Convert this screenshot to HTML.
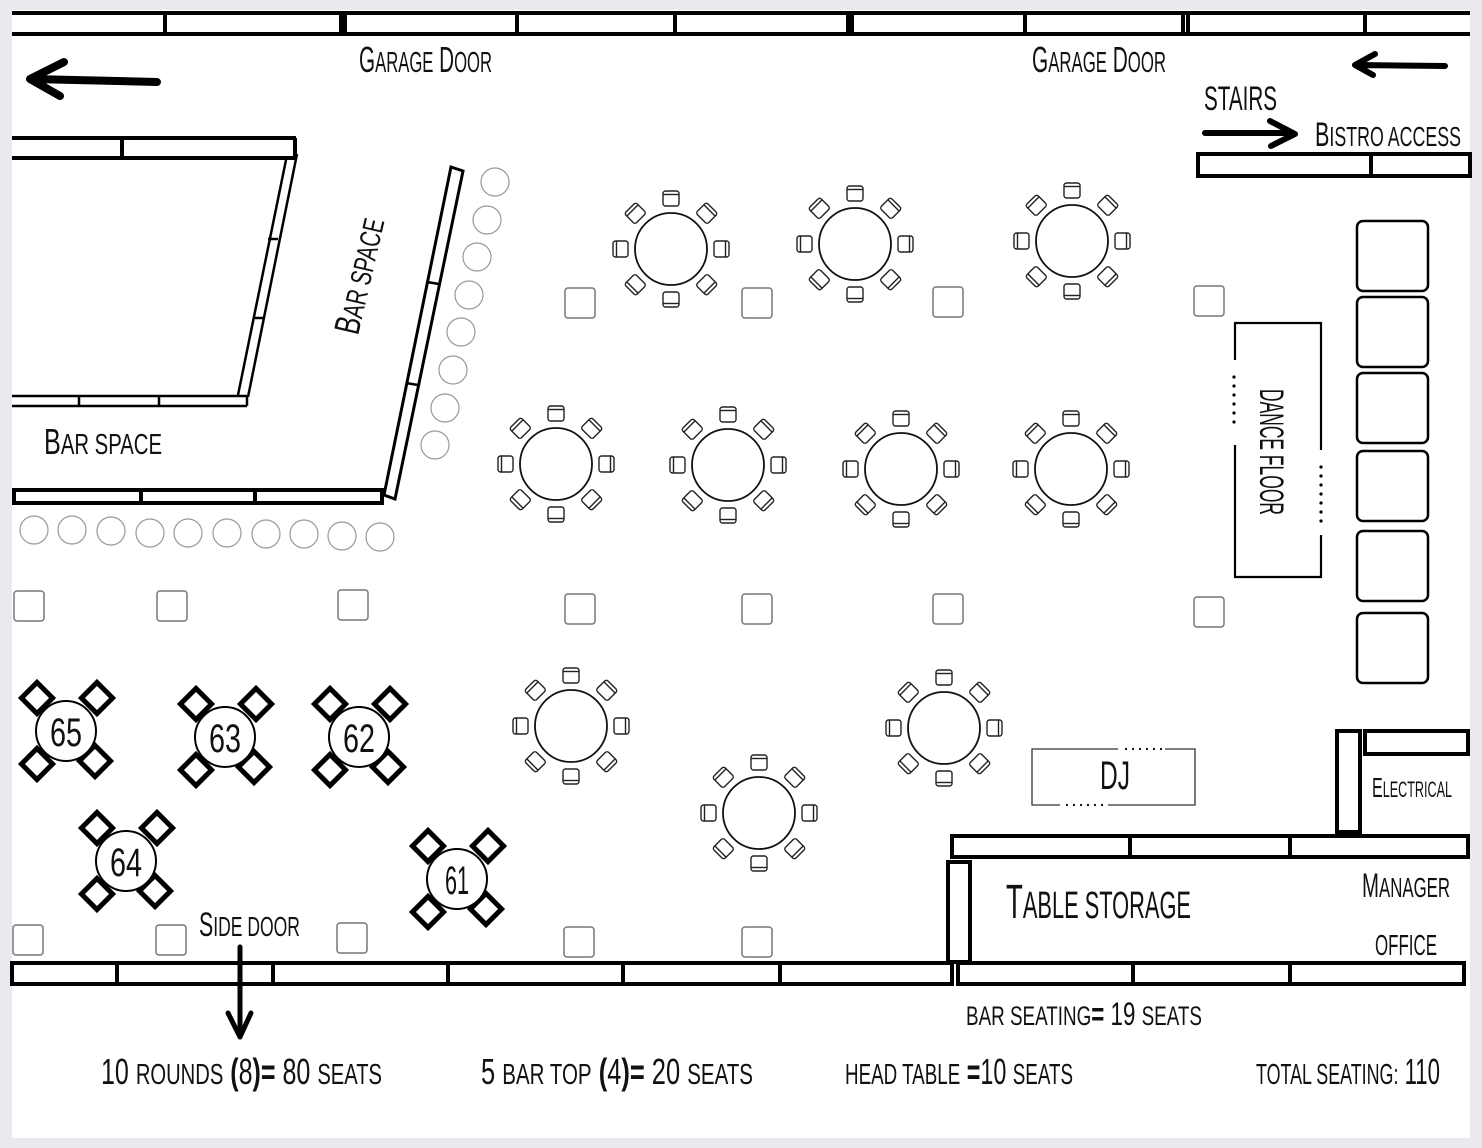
<!DOCTYPE html>
<html><head><meta charset="utf-8"><style>
html,body{margin:0;padding:0;background:#e9e9ee;}
svg{display:block}
text{font-family:"Liberation Sans Narrow","Liberation Sans",sans-serif;fill:#111;}
</style></head><body>
<svg width="1482" height="1148" viewBox="0 0 1482 1148" xmlns="http://www.w3.org/2000/svg">
<defs>
<g id="ch" fill="#fff" stroke="#222" stroke-width="1.4"><rect x="-8" y="-8" width="16" height="15" rx="2.5"/><line x1="-8" y1="-4.5" x2="8" y2="-4.5"/></g>
<g id="rt">
<circle r="36" fill="#fff" stroke="#111" stroke-width="1.8"/>
<use href="#ch" transform="rotate(0) translate(0,-50)"/>
<use href="#ch" transform="rotate(45) translate(0,-50)"/>
<use href="#ch" transform="rotate(90) translate(0,-50)"/>
<use href="#ch" transform="rotate(135) translate(0,-50)"/>
<use href="#ch" transform="rotate(180) translate(0,-50)"/>
<use href="#ch" transform="rotate(225) translate(0,-50)"/>
<use href="#ch" transform="rotate(270) translate(0,-50)"/>
<use href="#ch" transform="rotate(315) translate(0,-50)"/>
</g>
<rect id="sq" x="-15" y="-15" width="30" height="30" rx="3" fill="#fff" stroke="#777" stroke-width="1.5"/>
<g id="bt">
<g fill="#fff" stroke="#000" stroke-width="5">
<rect x="-11" y="-11" width="22" height="22" transform="translate(-29,-33) rotate(45)"/>
<rect x="-11" y="-11" width="22" height="22" transform="translate(31,-33) rotate(45)"/>
<rect x="-11" y="-11" width="22" height="22" transform="translate(-29,33) rotate(45)"/>
<rect x="-11" y="-11" width="22" height="22" transform="translate(29,30) rotate(45)"/>
</g>
<circle r="30" fill="#fff" stroke="#000" stroke-width="2"/>
</g>
<circle id="st" r="14" fill="#fff" stroke="#999" stroke-width="1.2"/>
</defs>
<rect x="12" y="10" width="1458" height="1128" fill="#fff"/>

<g stroke="#000" stroke-width="4" fill="none">
<line x1="12" y1="13" x2="1470" y2="13"/><line x1="12" y1="34" x2="1470" y2="34"/>
<line x1="165" y1="13" x2="165" y2="34"/><line x1="341" y1="13" x2="341" y2="34"/><line x1="345" y1="13" x2="345" y2="34"/>
<line x1="517" y1="13" x2="517" y2="34"/><line x1="675" y1="13" x2="675" y2="34"/><line x1="848" y1="13" x2="848" y2="34"/><line x1="852" y1="13" x2="852" y2="34"/>
<line x1="1025" y1="13" x2="1025" y2="34"/><line x1="1183" y1="13" x2="1183" y2="34"/><line x1="1188" y1="13" x2="1188" y2="34"/><line x1="1365" y1="13" x2="1365" y2="34"/>
<rect x="12" y="963" width="940" height="21"/>
<line x1="117" y1="963" x2="117" y2="984"/><line x1="273" y1="963" x2="273" y2="984"/><line x1="448" y1="963" x2="448" y2="984"/><line x1="623" y1="963" x2="623" y2="984"/><line x1="780" y1="963" x2="780" y2="984"/>
<rect x="958" y="963" width="506" height="21"/>
<line x1="1133" y1="963" x2="1133" y2="984"/><line x1="1290" y1="963" x2="1290" y2="984"/>
<rect x="952" y="836" width="516" height="21"/>
<line x1="1130" y1="836" x2="1130" y2="857"/><line x1="1290" y1="836" x2="1290" y2="857"/>
<rect x="948" y="862" width="22" height="100"/>
<rect x="1337" y="731" width="23" height="101"/>
<rect x="1365" y="731" width="103" height="23"/>
<rect x="1198" y="154" width="272" height="22"/>
<line x1="1371" y1="154" x2="1371" y2="176"/>
<line x1="12" y1="138" x2="296" y2="138"/><line x1="12" y1="158" x2="297" y2="158"/><line x1="295" y1="138" x2="295" y2="158"/>
<line x1="122" y1="138" x2="122" y2="158"/>
<rect x="14" y="490" width="368" height="13"/>
<line x1="141" y1="490" x2="141" y2="503"/><line x1="255" y1="490" x2="255" y2="503"/>
</g>
<g stroke="#000" stroke-width="2.5" fill="none">
<line x1="297" y1="154" x2="248" y2="397"/><line x1="286" y1="160" x2="238" y2="395"/>
<line x1="12" y1="396" x2="247" y2="396"/><line x1="12" y1="406" x2="247" y2="406"/><line x1="247" y1="396" x2="247" y2="406"/>
<line x1="79" y1="396" x2="79" y2="406"/><line x1="159" y1="396" x2="159" y2="406"/>
<line x1="268" y1="239" x2="278" y2="239"/><line x1="255" y1="318" x2="263" y2="318"/>
<polygon points="451,167 463,171 395,499 384,495" stroke-width="3"/>
<line x1="427" y1="282" x2="439" y2="284"/><line x1="406" y1="383" x2="418" y2="385"/>
</g>
<use href="#st" x="495" y="182"/><use href="#st" x="487" y="220"/><use href="#st" x="477" y="257"/><use href="#st" x="469" y="295"/>
<use href="#st" x="461" y="332"/><use href="#st" x="453" y="370"/><use href="#st" x="445" y="408"/><use href="#st" x="435" y="445"/>
<use href="#st" x="34" y="530"/><use href="#st" x="72" y="530"/><use href="#st" x="111" y="531"/><use href="#st" x="150" y="533"/><use href="#st" x="188" y="533"/>
<use href="#st" x="227" y="533"/><use href="#st" x="266" y="534"/><use href="#st" x="304" y="534"/><use href="#st" x="342" y="536"/><use href="#st" x="380" y="537"/>

<use href="#rt" x="671" y="249"/><use href="#rt" x="855" y="244"/><use href="#rt" x="1072" y="241"/>
<use href="#rt" x="556" y="464"/><use href="#rt" x="728" y="465"/><use href="#rt" x="901" y="469"/><use href="#rt" x="1071" y="469"/>
<use href="#rt" x="571" y="726"/><use href="#rt" x="944" y="728"/><use href="#rt" x="759" y="813"/>

<use href="#sq" x="580" y="303"/><use href="#sq" x="757" y="303"/><use href="#sq" x="948" y="302"/><use href="#sq" x="1209" y="301"/>
<use href="#sq" x="580" y="609"/><use href="#sq" x="757" y="609"/><use href="#sq" x="948" y="609"/><use href="#sq" x="1209" y="612"/>
<use href="#sq" x="29" y="606"/><use href="#sq" x="172" y="606"/><use href="#sq" x="353" y="605"/>
<use href="#sq" x="28" y="940"/><use href="#sq" x="171" y="940"/><use href="#sq" x="352" y="938"/><use href="#sq" x="579" y="942"/><use href="#sq" x="757" y="942"/>

<use href="#bt" x="66" y="731"/><use href="#bt" x="225" y="737"/><use href="#bt" x="359" y="737"/><use href="#bt" x="126" y="861"/><use href="#bt" x="457" y="879"/>
<g font-size="40" text-anchor="middle">
<text x="66" y="746" textLength="32" lengthAdjust="spacingAndGlyphs">65</text>
<text x="225" y="752" textLength="32" lengthAdjust="spacingAndGlyphs">63</text>
<text x="359" y="752" textLength="32" lengthAdjust="spacingAndGlyphs">62</text>
<text x="126" y="876" textLength="32" lengthAdjust="spacingAndGlyphs">64</text>
<text x="457" y="894" textLength="24" lengthAdjust="spacingAndGlyphs">61</text>
</g>

<g fill="#fff" stroke="#000" stroke-width="2.5">
<rect x="1357" y="221" width="71" height="70" rx="6"/><rect x="1357" y="297" width="71" height="70" rx="6"/><rect x="1357" y="373" width="71" height="70" rx="6"/>
<rect x="1357" y="451" width="71" height="70" rx="6"/><rect x="1357" y="531" width="71" height="70" rx="6"/><rect x="1357" y="613" width="71" height="70" rx="6"/>
</g>
<g stroke="#000" stroke-width="2.2" fill="none">
<polyline points="1235,360 1235,323 1321,323 1321,450"/>
<polyline points="1321,535 1321,577 1235,577 1235,445"/>
</g>
<g fill="#000">
<circle cx="1234" cy="377" r="1.6"/><circle cx="1234" cy="386" r="1.6"/><circle cx="1234" cy="395" r="1.6"/><circle cx="1234" cy="404" r="1.6"/><circle cx="1234" cy="413" r="1.6"/><circle cx="1234" cy="422" r="1.6"/>
<circle cx="1321" cy="467" r="1.6"/><circle cx="1321" cy="476" r="1.6"/><circle cx="1321" cy="485" r="1.6"/><circle cx="1321" cy="494" r="1.6"/><circle cx="1321" cy="503" r="1.6"/><circle cx="1321" cy="512" r="1.6"/><circle cx="1321" cy="521" r="1.6"/>
<circle cx="1126" cy="749" r="1.1"/><circle cx="1133" cy="749" r="1.1"/><circle cx="1140" cy="749" r="1.1"/><circle cx="1147" cy="749" r="1.1"/><circle cx="1154" cy="749" r="1.1"/><circle cx="1161" cy="749" r="1.1"/>
<circle cx="1067" cy="805" r="1.1"/><circle cx="1074" cy="805" r="1.1"/><circle cx="1081" cy="805" r="1.1"/><circle cx="1088" cy="805" r="1.1"/><circle cx="1095" cy="805" r="1.1"/><circle cx="1102" cy="805" r="1.1"/>
</g>
<text x="0" y="0" font-size="34" text-anchor="middle" transform="translate(1260,452) rotate(90)" textLength="126" lengthAdjust="spacingAndGlyphs">DANCE FLOOR</text>
<g stroke="#333" stroke-width="1.3" fill="none">
<polyline points="1118,749 1032,749 1032,805 1060,805"/>
<polyline points="1108,805 1195,805 1195,749 1165,749"/>
</g>
<text x="1115" y="789" font-size="40" text-anchor="middle" textLength="30" lengthAdjust="spacingAndGlyphs">DJ</text>

<g stroke="#000" stroke-width="8" stroke-linecap="round" fill="none" stroke-linejoin="round">
<path d="M157,82 L32,79 M64,62 L30,79 L60,96"/>
<path d="M1445,66 L1356,65 M1375,54 L1355,65 L1373,75" stroke-width="6"/>
<path d="M1205,133 L1293,133 M1270,121 L1295,134 L1271,146" stroke-width="6"/>
<path d="M240,947 L240,1035 M228,1013 L240,1037 L251,1013" stroke-width="5"/>
</g>

<g font-size="36">
<text x="359" y="72" textLength="133" lengthAdjust="spacingAndGlyphs">G<tspan font-size="29">ARAGE</tspan> D<tspan font-size="29">OOR</tspan></text>
<text x="1032" y="72" textLength="134" lengthAdjust="spacingAndGlyphs">G<tspan font-size="29">ARAGE</tspan> D<tspan font-size="29">OOR</tspan></text>
<text x="1204" y="110" font-size="34" textLength="73" lengthAdjust="spacingAndGlyphs">STAIRS</text>
<text x="1315" y="146" font-size="34" textLength="146" lengthAdjust="spacingAndGlyphs">B<tspan font-size="28">ISTRO ACCESS</tspan></text>
<text x="44" y="454" textLength="118" lengthAdjust="spacingAndGlyphs">B<tspan font-size="29">AR SPACE</tspan></text>
<text x="0" y="0" transform="translate(358,336) rotate(-77)" textLength="118" lengthAdjust="spacingAndGlyphs">B<tspan font-size="29">AR SPACE</tspan></text>
<text x="1006" y="918" font-size="48" textLength="185" lengthAdjust="spacingAndGlyphs">T<tspan font-size="38">ABLE STORAGE</tspan></text>
<text x="1362" y="897" font-size="34" textLength="88" lengthAdjust="spacingAndGlyphs">M<tspan font-size="28">ANAGER</tspan></text>
<text x="1375" y="955" font-size="29" textLength="62" lengthAdjust="spacingAndGlyphs">OFFICE</text>
<text x="1372" y="797" font-size="28" textLength="80" lengthAdjust="spacingAndGlyphs">E<tspan font-size="22">LECTRICAL</tspan></text>
<text x="199" y="936" font-size="34" textLength="101" lengthAdjust="spacingAndGlyphs">S<tspan font-size="28">IDE DOOR</tspan></text>
<text x="966" y="1025" font-size="32" textLength="236" lengthAdjust="spacingAndGlyphs"><tspan font-size="27">BAR SEATING</tspan><tspan font-weight="bold">=</tspan> 19 <tspan font-size="27">SEATS</tspan></text>
<text x="101" y="1084" textLength="281" lengthAdjust="spacingAndGlyphs">10 <tspan font-size="29">ROUNDS</tspan> <tspan font-weight="bold">(</tspan>8<tspan font-weight="bold">)=</tspan> 80 <tspan font-size="29">SEATS</tspan></text>
<text x="481" y="1084" textLength="272" lengthAdjust="spacingAndGlyphs">5 <tspan font-size="29">BAR TOP</tspan> <tspan font-weight="bold">(</tspan>4<tspan font-weight="bold">)=</tspan> 20 <tspan font-size="29">SEATS</tspan></text>
<text x="845" y="1084" textLength="228" lengthAdjust="spacingAndGlyphs"><tspan font-size="29">HEAD TABLE</tspan> <tspan font-weight="bold">=</tspan>10 <tspan font-size="29">SEATS</tspan></text>
<text x="1256" y="1084" textLength="184" lengthAdjust="spacingAndGlyphs"><tspan font-size="29">TOTAL SEATING:</tspan>  110</text>
</g>
</svg>
</body></html>
